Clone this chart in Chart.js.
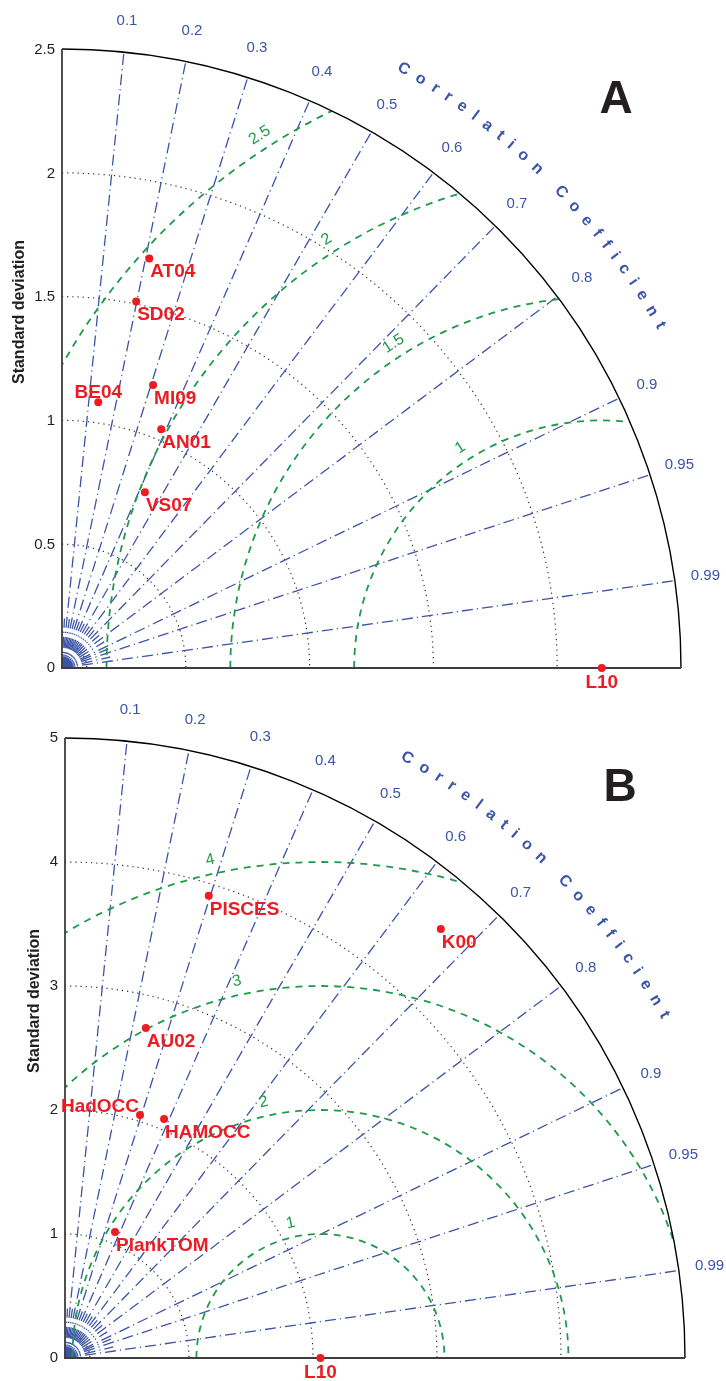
<!DOCTYPE html>
<html>
<head>
<meta charset="utf-8">
<script src="https://cdn.jsdelivr.net/npm/chart.js@4.4.0/dist/chart.umd.min.js"></script>
<style>
  body { margin: 0; background: #fff; width: 726px; }
  canvas { display: block; }
</style>
</head>
<body>
<canvas id="chartA" width="726" height="700"></canvas>
<canvas id="chartB" width="726" height="681"></canvas>
<script>
// correlation rays drawn on both diagrams
const corrTicks = [0.1, 0.2, 0.3, 0.4, 0.5, 0.6, 0.7, 0.8, 0.9, 0.95, 0.99];
const corrMinor = [0.05, 0.15, 0.25, 0.35, 0.45, 0.55, 0.65, 0.75, 0.85, 0.925, 0.975];

// Panel A
const modelsA = ["AT04", "SD02", "BE04", "MI09", "AN01", "VS07", "L10"];
const stdA = [1.694, 1.513, 1.085, 1.202, 1.046, 0.786, 2.18];
const corrA = [0.208, 0.198, 0.135, 0.306, 0.383, 0.426, 1];
const stdTicksA = [0, 0.5, 1, 1.5, 2, 2.5];
const stdCirclesA = [0.5, 1, 1.5, 2];
const rmsCirclesA = [1, 1.5, 2, 2.5];

// Panel B
const modelsB = ["PISCES", "AU02", "HadOCC", "HAMOCC", "PlankTOM", "K00", "L10"];
const stdB = [3.903, 2.740, 2.051, 2.086, 1.093, 4.599, 2.06];
const corrB = [0.297, 0.238, 0.295, 0.383, 0.369, 0.659, 1];
const stdTicksB = [0, 1, 2, 3, 4, 5];
const stdCirclesB = [1, 2, 3, 4];
const rmsCirclesB = [1, 2, 3, 4];

const BLUE = "#3b55a6";
const GREEN = "#1f9a4a";
const RED = "#ec1c24";
const DARK = "#231f20";
const FONT = "'Liberation Sans', Arial, Helvetica, sans-serif";

// where a model name sits relative to its dot
const labelPlace = {
  BE04: { align: "center", dx: 0, dy: -4 },
  HadOCC: { align: "right", dx: -1, dy: -3 },
  L10: { align: "center", dx: 0, dy: 20 }
};
const labelDefault = { align: "left", dx: 1, dy: 19 };

function toXY(std, corr) {
  return std.map((s, i) => ({ x: s * corr[i], y: s * Math.sqrt(1 - corr[i] * corr[i]) }));
}

function arcText(ctx, text, cx, cy, r, a1, a2) {
  const chars = [...text];
  const w = chars.map(ch => ctx.measureText(ch).width);
  const inner = w.reduce((s, v) => s + v, 0) - w[0] / 2 - w[w.length - 1] / 2;
  const len = r * (a1 - a2) * Math.PI / 180;
  const gap = (len - inner) / (chars.length - 1);
  let pos = 0;
  chars.forEach((ch, i) => {
    if (i > 0) pos += w[i - 1] / 2 + gap + w[i] / 2;
    const ang = a1 * Math.PI / 180 - pos / r;
    ctx.save();
    ctx.translate(cx + r * Math.cos(ang), cy - r * Math.sin(ang));
    ctx.rotate(Math.PI / 2 - ang);
    ctx.fillText(ch, 0, 0);
    ctx.restore();
  });
}

function makeTaylor(p) {
  return {
    id: "taylor" + p.tag,
    beforeDatasetsDraw(chart) {
      const { ctx, chartArea: ca, scales: { x, y } } = chart;
      const x0 = x.getPixelForValue(0), y0 = y.getPixelForValue(0);
      const u = x.getPixelForValue(1) - x0;
      const R = p.max * u;
      ctx.save();

      // standard deviation arcs
      ctx.strokeStyle = "#2e2e2e";
      ctx.lineWidth = 1.2;
      ctx.setLineDash([1.2, 4]);
      p.stdCircles.concat([0.04 * p.max]).forEach(s => {
        ctx.beginPath();
        ctx.arc(x0, y0, s * u, -Math.PI / 2, 0);
        ctx.stroke();
      });

      // correlation rays
      ctx.strokeStyle = BLUE;
      ctx.lineWidth = 1.3;
      ctx.setLineDash([11, 4, 1.2, 4]);
      corrTicks.forEach(c => {
        const a = Math.acos(c);
        ctx.beginPath();
        ctx.moveTo(x0, y0);
        ctx.lineTo(x0 + R * Math.cos(a), y0 - R * Math.sin(a));
        ctx.stroke();
      });
      corrMinor.forEach(c => {
        const a = Math.acos(c);
        ctx.beginPath();
        ctx.moveTo(x0, y0);
        ctx.lineTo(x0 + 0.08 * R * Math.cos(a), y0 - 0.08 * R * Math.sin(a));
        ctx.stroke();
      });
      ctx.setLineDash([]);
      ctx.lineWidth = 1;
      for (let d = 0; d <= 90; d += 5) {
        const a = d * Math.PI / 180;
        ctx.beginPath();
        ctx.moveTo(x0, y0);
        ctx.lineTo(x0 + 0.022 * R * Math.cos(a), y0 - 0.022 * R * Math.sin(a));
        ctx.stroke();
      }

      // centred RMS difference arcs, kept inside the quadrant
      const xr = x.getPixelForValue(p.ref);
      ctx.save();
      ctx.beginPath();
      ctx.moveTo(x0, y0);
      ctx.arc(x0, y0, R, -Math.PI / 2, 0);
      ctx.closePath();
      ctx.clip();
      ctx.strokeStyle = GREEN;
      ctx.lineWidth = 1.8;
      ctx.setLineDash([7, 6]);
      p.rms.forEach(r => {
        ctx.beginPath();
        ctx.arc(xr, y0, r * u, Math.PI, 2 * Math.PI);
        ctx.stroke();
      });
      ctx.restore();

      ctx.fillStyle = GREEN;
      ctx.font = "16px " + FONT;
      ctx.textAlign = "center";
      ctx.textBaseline = "middle";
      const la = p.rmsLabelAngle * Math.PI / 180;
      p.rms.forEach(r => {
        const rr = r * u + 14;
        ctx.save();
        ctx.translate(xr + rr * Math.cos(la), y0 - rr * Math.sin(la));
        ctx.rotate(Math.PI / 2 - la);
        ctx.fillText(String(r), 0, 0);
        ctx.restore();
      });

      // outer arc and axes
      ctx.strokeStyle = "#000";
      ctx.lineWidth = 1.4;
      ctx.beginPath();
      ctx.arc(x0, y0, R, -Math.PI / 2, 0);
      ctx.stroke();
      ctx.strokeStyle = "#3d3d3d";
      ctx.lineWidth = 1.8;
      ctx.beginPath();
      ctx.moveTo(x0, y0 - R);
      ctx.lineTo(x0, y0);
      ctx.lineTo(x0 + R, y0);
      ctx.stroke();

      // correlation tick labels
      ctx.fillStyle = BLUE;
      ctx.font = "15px " + FONT;
      corrTicks.forEach(c => {
        const a = Math.acos(c);
        ctx.fillText(String(c), x0 + 1.05 * R * Math.cos(a), y0 - 1.05 * R * Math.sin(a));
      });

      // curved axis name
      ctx.font = "bold 16px " + FONT;
      arcText(ctx, "Correlation Coefficient", x0, y0, 1.114 * R, 60.3, 29.8);

      // panel letter
      ctx.fillStyle = DARK;
      ctx.font = "bold 46px " + FONT;
      ctx.textBaseline = "alphabetic";
      ctx.fillText(p.tag, ca.right - 65, ca.top + 63);

      // y axis title
      ctx.font = "15px " + FONT;
      const tw = Math.max(...p.ticks.map(t => ctx.measureText(String(t)).width));
      ctx.font = "bold 16px " + FONT;
      ctx.textBaseline = "middle";
      ctx.save();
      ctx.translate(ca.left - 7 - tw - 15, ca.top + 0.424 * (ca.bottom - ca.top));
      ctx.rotate(-Math.PI / 2);
      ctx.fillText("Standard deviation", 0, 0);
      ctx.restore();

      ctx.restore();
    },
    afterDatasetsDraw(chart) {
      const { ctx } = chart;
      const pts = chart.getDatasetMeta(0).data;
      ctx.save();
      ctx.fillStyle = RED;
      ctx.font = "bold 19px " + FONT;
      ctx.textBaseline = "alphabetic";
      p.models.forEach((m, i) => {
        const lp = labelPlace[m] || labelDefault;
        ctx.textAlign = lp.align;
        ctx.fillText(m, pts[i].x + lp.dx, pts[i].y + lp.dy);
      });
      ctx.restore();
    }
  };
}

function buildChart(id, p, pad, axisLeft) {
  return new Chart(document.getElementById(id), {
    type: "scatter",
    data: {
      datasets: [{
        data: toXY(p.std, p.corr),
        pointRadius: 4,
        pointHoverRadius: 4,
        backgroundColor: RED,
        borderWidth: 0,
        clip: false
      }]
    },
    options: {
      responsive: false,
      animation: false,
      events: [],
      layout: { padding: pad },
      plugins: { legend: { display: false }, tooltip: { enabled: false } },
      scales: {
        x: { type: "linear", display: false, min: 0, max: p.max },
        y: {
          type: "linear",
          min: 0,
          max: p.max,
          afterFit: s => { s.width = axisLeft; },
          afterBuildTicks: s => { s.ticks = p.ticks.map(v => ({ value: v })); },
          grid: { display: false, drawTicks: false },
          border: { display: false },
          ticks: {
            autoSkip: false,
            padding: 7,
            color: DARK,
            font: { size: 15, family: FONT },
            callback: v => String(v)
          }
        }
      }
    },
    plugins: [makeTaylor(p)]
  });
}

const panelA = {
  tag: "A", models: modelsA, std: stdA, corr: corrA,
  ticks: stdTicksA, max: stdTicksA[stdTicksA.length - 1],
  stdCircles: stdCirclesA, rms: rmsCirclesA,
  ref: stdA[modelsA.indexOf("L10")], rmsLabelAngle: 122.7
};
const panelB = {
  tag: "B", models: modelsB, std: stdB, corr: corrB,
  ticks: stdTicksB, max: stdTicksB[stdTicksB.length - 1],
  stdCircles: stdCirclesB, rms: rmsCirclesB,
  ref: stdB[modelsB.indexOf("L10")], rmsLabelAngle: 102.5
};

buildChart("chartA", panelA, { top: 50, right: 45, bottom: 32, left: 0 }, 62);
buildChart("chartB", panelB, { top: 38, right: 41, bottom: 23, left: 0 }, 65);
</script>
</body>
</html>
